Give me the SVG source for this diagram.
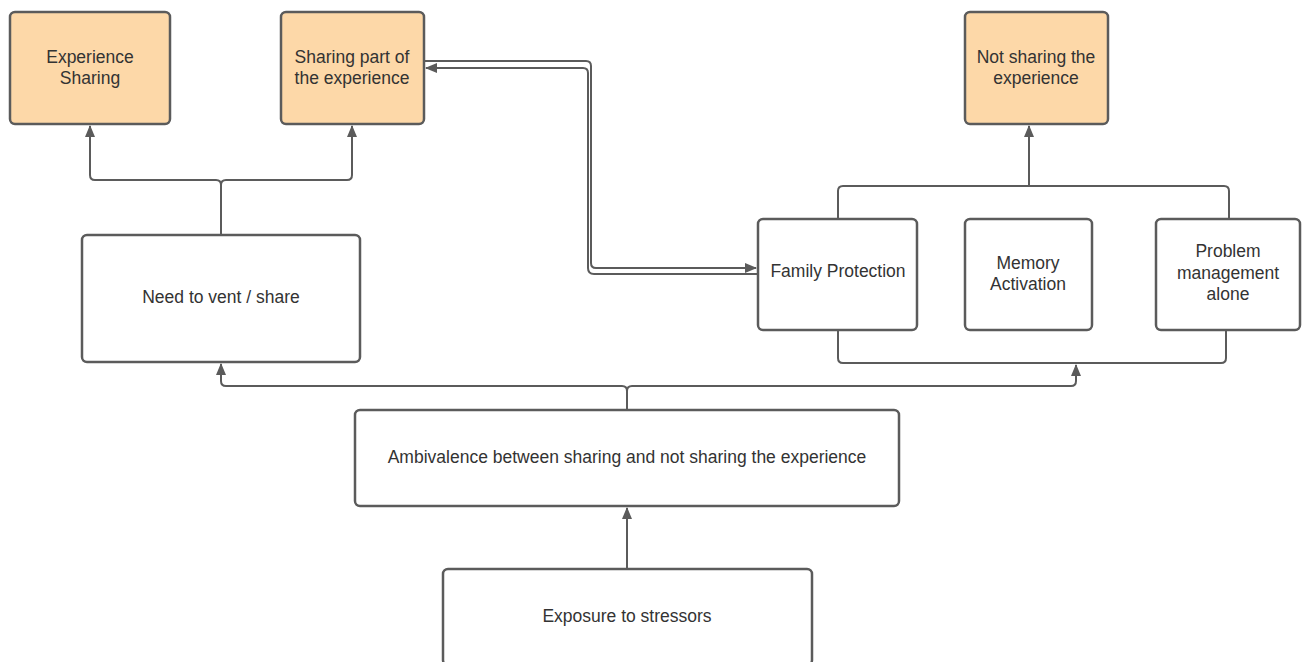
<svg xmlns="http://www.w3.org/2000/svg" width="1303" height="662" viewBox="0 0 1303 662">
<style>
.box{fill:#ffffff;stroke:#5b5b5b;stroke-width:2.5}
.term{fill:#fdd8a8;stroke:#5b5b5b;stroke-width:2.5}
.lbl{font-family:"Liberation Sans",Arial,sans-serif;font-size:17.5px;fill:#333333;text-anchor:middle}
.ln{fill:none;stroke:#5b5b5b;stroke-width:2}
.arr{fill:none;stroke:#5b5b5b;stroke-width:2;marker-end:url(#ah)}
</style>
<defs>
<marker id="ah" viewBox="0 0 12 10" refX="11" refY="5" markerWidth="12" markerHeight="10" markerUnits="userSpaceOnUse" orient="auto">
<path d="M0,0 L12,5 L0,10 Z" fill="#5b5b5b"/>
</marker>
</defs>
<rect width="1303" height="662" fill="#ffffff"/>
<g id="connectors">
<path class="arr" d="M221,235 L221,185 Q221,180 216,180 L95,180 Q90,180 90,175 L90,126"/>
<path class="arr" d="M221,235 L221,185 Q221,180 226,180 L347,180 Q352,180 352,175 L352,126"/>
<path class="arr" d="M424,61 L586,61 Q591,61 591,66 L591,263 Q591,268 596,268 L756,268"/>
<path class="arr" d="M757,274 L594,274 Q588,274 588,268 L588,73 Q588,68 583,68 L426,68"/>
<path class="ln" d="M838,219 L838,191 Q838,186 843,186 L1224,186 Q1229,186 1229,191 L1229,219"/>
<path class="arr" d="M1029,186 L1029,126"/>
<path class="ln" d="M838,330 L838,358 Q838,363 843,363 L1221,363 Q1226,363 1226,358 L1226,330"/>
<path class="arr" d="M627,410 L627,391 Q627,386 622,386 L226,386 Q221,386 221,381 L221,364"/>
<path class="arr" d="M627,410 L627,391 Q627,386 632,386 L1071,386 Q1076,386 1076,381 L1076,365"/>
<path class="arr" d="M627,569 L627,508"/>
</g>
<g id="experience-sharing">
<rect class="term" x="10" y="12" width="160" height="112" rx="5"/>
<text class="lbl" x="90" y="63">Experience</text>
<text class="lbl" x="90" y="84">Sharing</text>
</g>
<g id="sharing-part">
<rect class="term" x="281" y="12" width="143" height="112" rx="5"/>
<text class="lbl" x="352" y="63">Sharing part of</text>
<text class="lbl" x="352" y="84">the experience</text>
</g>
<g id="not-sharing">
<rect class="term" x="965" y="12" width="143" height="112" rx="5"/>
<text class="lbl" x="1036" y="63">Not sharing the</text>
<text class="lbl" x="1036" y="84">experience</text>
</g>
<g id="need-to-vent">
<rect class="box" x="82" y="235" width="278" height="127" rx="5"/>
<text class="lbl" x="221" y="303">Need to vent / share</text>
</g>
<g id="family-protection">
<rect class="box" x="758" y="219" width="159" height="111" rx="5"/>
<text class="lbl" x="838" y="277">Family Protection</text>
</g>
<g id="memory-activation">
<rect class="box" x="965" y="219" width="127" height="111" rx="5"/>
<text class="lbl" x="1028" y="269">Memory</text>
<text class="lbl" x="1028" y="290">Activation</text>
</g>
<g id="problem-management">
<rect class="box" x="1156" y="219" width="144" height="111" rx="5"/>
<text class="lbl" x="1228" y="257">Problem</text>
<text class="lbl" x="1228" y="279">management</text>
<text class="lbl" x="1228" y="300">alone</text>
</g>
<g id="ambivalence">
<rect class="box" x="355" y="410" width="544" height="96" rx="5"/>
<text class="lbl" x="627" y="463">Ambivalence between sharing and not sharing the experience</text>
</g>
<g id="exposure">
<rect class="box" x="443" y="569" width="369" height="96" rx="5"/>
<text class="lbl" x="627" y="622">Exposure to stressors</text>
</g>
</svg>
